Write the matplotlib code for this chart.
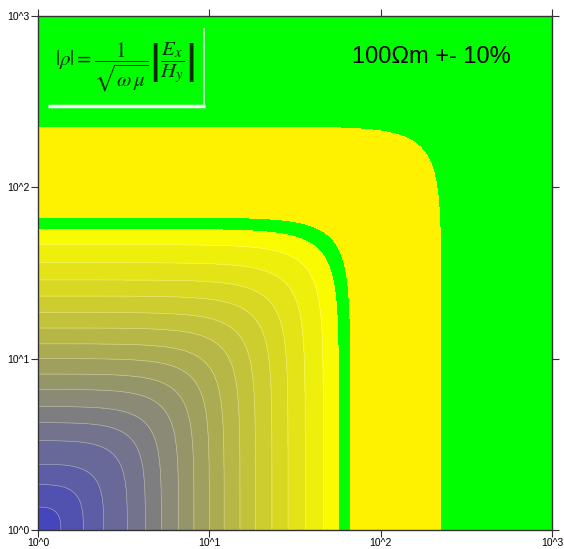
import matplotlib
matplotlib.use("Agg")
import matplotlib.pyplot as plt
import numpy as np

plt.rcParams["font.family"] = ["Liberation Sans", "DejaVu Sans"]
plt.rcParams["mathtext.fontset"] = "stix"

# where each band boundary meets the lower axis (data units)
band_edges_x = [1.36, 1.84, 2.42, 3.32, 4.23, 5.25, 6.61, 8.13, 10.0, 12.2,
                15.1, 18.6, 23.2, 28.8, 36.3, 46.3, 57.5, 67.0, 228.0]
n_gradient = 17          # bands shaded blue -> yellow
grad_lo = (70, 70, 188)
grad_hi = (250, 250, 0)
band_tail = ["#00ff00", "#fff200", "#00ff00"]   # +-10 % bands and outside
corner_p = 2.5           # shape of the iso-lines

tick_vals = [1, 10, 100, 1000]
tick_labels = ["10^0", "10^1", "10^2", "10^3"]

title_txt = "100\u03a9m +- 10%"
formula = r"$|\rho|=\dfrac{1}{\sqrt{\omega\,\mu}}\left|\dfrac{E_x}{H_y}\right|$"

# field on a log grid
gx = np.logspace(0, 3, 700)
X, Y = np.meshgrid(gx, gx)
S = ((X - 1) ** corner_p + (Y - 1) ** corner_p) ** (1 / corner_p)

levels = [0.0] + [e - 1 for e in band_edges_x] + [1e4]

lo = np.array(grad_lo) / 255
hi = np.array(grad_hi) / 255
colors = [tuple(lo + (hi - lo) * i / (n_gradient - 1)) for i in range(n_gradient)]
colors += band_tail

fig = plt.figure(figsize=(5.64, 5.49), dpi=100)
ax = fig.add_axes([38 / 564, 19 / 549, 514 / 564, 514 / 549])

ax.contourf(X, Y, S, levels=levels, colors=colors)
ax.contour(X, Y, S, levels=levels[1:n_gradient], colors="white",
           linewidths=0.4, alpha=0.5)

ax.set_xscale("log")
ax.set_yscale("log")
ax.set_xlim(1, 1000)
ax.set_ylim(1, 1000)
ax.set_xticks(tick_vals)
ax.set_xticklabels(tick_labels)
ax.set_yticks(tick_vals)
ax.set_yticklabels(tick_labels)
ax.minorticks_off()
ax.tick_params(which="both", direction="out", length=5, width=0.8,
               labelsize=7.5, top=True, right=True, pad=1, color="#333333")
for sp in ax.spines.values():
    sp.set_linewidth(1.0)
    sp.set_color("#333333")

ax.text(0.765, 0.92, title_txt, transform=ax.transAxes, fontsize=17,
        ha="center", va="center", color="black")

ax.text(0.17, 0.9, formula, transform=ax.transAxes, fontsize=15,
        ha="center", va="center", color="#0a2a0a")
# white frame under and to the right of the formula
ax.plot([0.0195, 0.325], [0.825, 0.825], transform=ax.transAxes,
        color="white", lw=2.5, solid_capstyle="butt")
ax.plot([0.322, 0.322], [0.825, 0.977], transform=ax.transAxes,
        color="white", lw=1.2, alpha=0.8, solid_capstyle="butt")

fig.savefig("out.png", dpi=100)
